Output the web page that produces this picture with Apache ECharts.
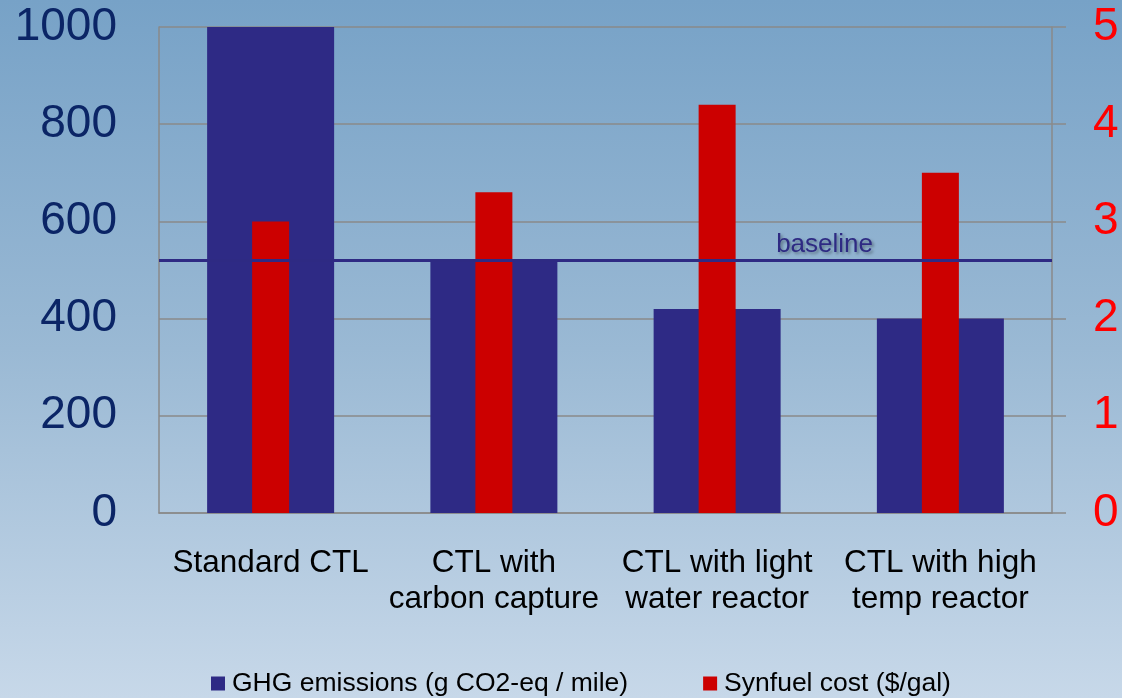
<!DOCTYPE html>
<html><head><meta charset="utf-8">
<script src="https://cdn.jsdelivr.net/npm/echarts@6/dist/echarts.min.js"></script>
<style>html,body{margin:0;padding:0;}#c{width:1122px;height:698px;}</style>
</head><body><div id="c"></div>
<script>
const categories = ["Standard CTL", "CTL with\ncarbon capture", "CTL with light\nwater reactor", "CTL with high\ntemp reactor"];
const ghgEmissions = [1000, 520, 420, 400];
const synfuelCost = [3.0, 3.3, 4.2, 3.5];
const baselineValue = 520;
const leftTicks = [0, 1000, 200];
const rightTicks = [0, 5, 1];
const seriesNames = ["GHG emissions (g CO2-eq / mile)", "Synfuel cost ($/gal)"];

const chart = echarts.init(document.getElementById('c'), null, {renderer: 'canvas'});
const font = '"Liberation Sans", Arial, sans-serif';
const option = {
  animation: false,
  backgroundColor: {
    type: 'linear', x: 0, y: 0, x2: 0, y2: 1,
    colorStops: [
      {offset: 0, color: '#77a2c7'},
      {offset: 0.5, color: '#9ab9d4'},
      {offset: 1, color: '#c7d8e9'}
    ]
  },
  grid: {left: 159, right: 70, top: 27, bottom: 185},
  legend: {
    left: 211, top: 670, padding: 0,
    itemWidth: 14, itemHeight: 14, itemGap: 75,
    icon: 'rect',
    textStyle: {fontFamily: font, fontSize: 26.5, color: '#000', padding: [0, 0, 0, 2]},
    data: seriesNames
  },
  xAxis: [
    {
      type: 'category', data: categories,
      axisLine: {lineStyle: {color: '#8a8a8a', width: 1.5}},
      axisTick: {show: false},
      axisLabel: {color: '#000', fontFamily: font, fontSize: 31.5, lineHeight: 36, margin: 32, interval: 0}
    },
    {
      type: 'category', data: categories, show: false
    }
  ],
  yAxis: [
    {
      type: 'value', min: leftTicks[0], max: leftTicks[1], interval: leftTicks[2],
      axisLine: {show: true, lineStyle: {color: '#8a8a8a', width: 1.5}},
      axisTick: {show: false},
      splitLine: {lineStyle: {color: '#8a8a8a', width: 1.5}},
      axisLabel: {color: '#0b2566', fontFamily: font, fontSize: 46, margin: 42, formatter: v => String(v)}
    },
    {
      type: 'value', min: rightTicks[0], max: rightTicks[1], interval: rightTicks[2],
      position: 'right',
      axisLine: {show: true, lineStyle: {color: '#8a8a8a', width: 1.5}},
      axisTick: {show: true, length: 14, lineStyle: {color: '#8a8a8a', width: 1.5}},
      splitLine: {show: false},
      axisLabel: {color: '#ff0000', fontFamily: font, fontSize: 46, margin: 41, formatter: v => String(v)}
    }
  ],
  series: [
    {
      name: seriesNames[0], type: 'bar', data: ghgEmissions,
      xAxisIndex: 0, yAxisIndex: 0, barWidth: 127,
      itemStyle: {color: '#2e2a85'},
      z: 2,
      markLine: {
        symbol: 'none', silent: true,
        lineStyle: {color: '#2e2a83', width: 3, type: 'solid'},
        label: {
          show: true, position: 'insideEndTop', formatter: 'baseline',
          color: '#2e2a83', fontFamily: font, fontSize: 26,
          padding: [0, 177, 0, 0], distance: 2,
          textShadowColor: 'rgba(0,0,0,0.35)', textShadowBlur: 3, textShadowOffsetX: 2, textShadowOffsetY: 2
        },
        data: [{yAxis: baselineValue}]
      }
    },
    {
      name: seriesNames[1], type: 'bar', data: synfuelCost,
      xAxisIndex: 1, yAxisIndex: 1, barWidth: 37,
      itemStyle: {color: '#cc0000'},
      z: 3
    }
  ]
};
chart.setOption(option);
</script>
</body></html>
